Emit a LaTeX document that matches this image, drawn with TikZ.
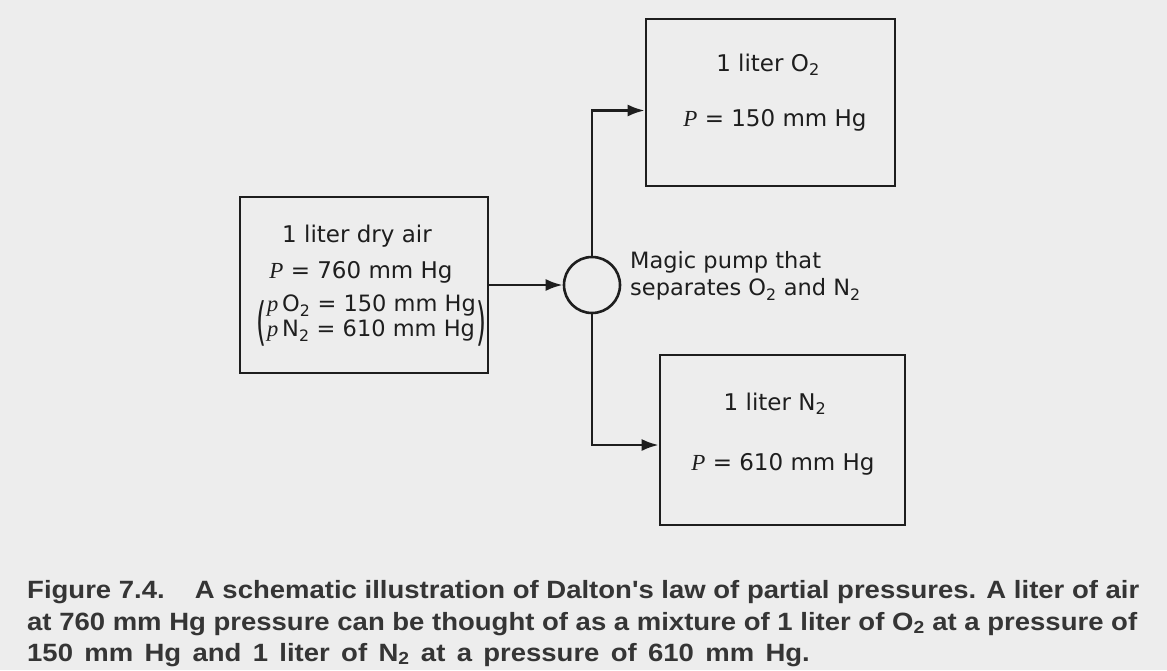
\documentclass[tikz,border=0pt]{standalone}
\usepackage{fontspec}
\setmainfont{DejaVu Sans}
\newfontfamily\capfont{Liberation Sans}
\newfontfamily\pfont{Liberation Serif}
\usetikzlibrary{arrows.meta}
\definecolor{paper}{HTML}{EDEDED}
\definecolor{ink}{HTML}{1E1E1E}
\newcommand\bigP{{\pfont\itshape P}}
\newcommand\smallp{{\pfont\itshape p}}
\newcommand\capline[1]{\scalebox{1.1}[1]{#1}}
\newcommand\tallparen[1]{\scalebox{0.8}[1.6]{\fontsize{32}{32}\selectfont #1}}
\begin{document}
\begin{tikzpicture}[x=1pt,y=-1pt,
  box/.style={draw=ink,line width=2.6pt,inner sep=0pt},
  lbl/.style={font=\fontsize{23}{27}\selectfont,text=ink,inner sep=0pt,anchor=mid},
  paren/.style={inner sep=0pt,text=ink,anchor=center},
  captxt/.style={font=\capfont\bfseries\fontsize{25}{30}\selectfont,text=ink!90,inner sep=0pt,anchor=base west},
  conn/.style={draw=ink,line width=2.6pt,-{Latex[length=17pt,width=12pt]}}]
\fill[paper] (0,0) rectangle (1167,670);
\useasboundingbox (0,0) rectangle (1167,670);
% boxes
\node[box,minimum width=248pt,minimum height=176pt] (air) at (364,285) {};
\node[box,minimum width=249pt,minimum height=167pt] (o2box) at (770.5,102.5) {};
\node[box,minimum width=245pt,minimum height=170pt] (n2box) at (782.5,440) {};
\node[draw=ink,line width=2.6pt,circle,minimum size=56pt,inner sep=0pt] (pump) at (592,285) {};
% texts in air box
\node[lbl] (t1) at (357,240) {1 liter dry air};
\node[lbl] (t2) at (361,276) {\bigP\ = 760 mm Hg};
\node[lbl,anchor=mid west,font=\fontsize{22.5}{26}\selectfont] (t3) at (267,309) {\smallp\,O\textsubscript{2} = 150 mm Hg};
\node[lbl,anchor=mid west,font=\fontsize{22.5}{26}\selectfont] (t4) at (267,334) {\smallp\,N\textsubscript{2} = 610 mm Hg};
\node[paren] (lp) at (261,323) {\tallparen{(}};
\node[paren] (rp) at (481,323) {\tallparen{)}};
% pump label
\node[lbl,anchor=west,align=left,font=\fontsize{22.5}{27}\selectfont] (pl) at (630,276) {Magic pump that\\separates O\textsubscript{2} and N\textsubscript{2}};
% O2 box texts
\node[lbl] (o1) at (768,69) {1 liter O\textsubscript{2}};
\node[lbl] (o2) at (775,124) {\bigP\ = 150 mm Hg};
% N2 box texts
\node[lbl] (n1) at (775,408) {1 liter N\textsubscript{2}};
\node[lbl] (n2) at (783,468) {\bigP\ = 610 mm Hg};
% connectors
\draw[conn] (air.east) -- (pump.west);
\draw[conn] (pump.north) |- ([yshift=-8pt]o2box.west);
\draw[conn] (pump.south) |- ([yshift=-5pt]n2box.west);
% caption
\node[captxt] (c1) at (27,598) {\capline{Figure 7.4.\hspace{1.1em}A schematic illustration of Dalton's law of partial pressures. A liter of air}};
\node[captxt] (c2) at (27,630) {\capline{at 760 mm Hg pressure can be thought of as a mixture of 1 liter of O\textsubscript{2} at a pressure of}};
\node[captxt] (c3) at (27,661) {\capline{\spaceskip=10.3pt 150 mm Hg and 1 liter of N\textsubscript{2} at a pressure of 610 mm Hg.}};
\end{tikzpicture}
\end{document}
